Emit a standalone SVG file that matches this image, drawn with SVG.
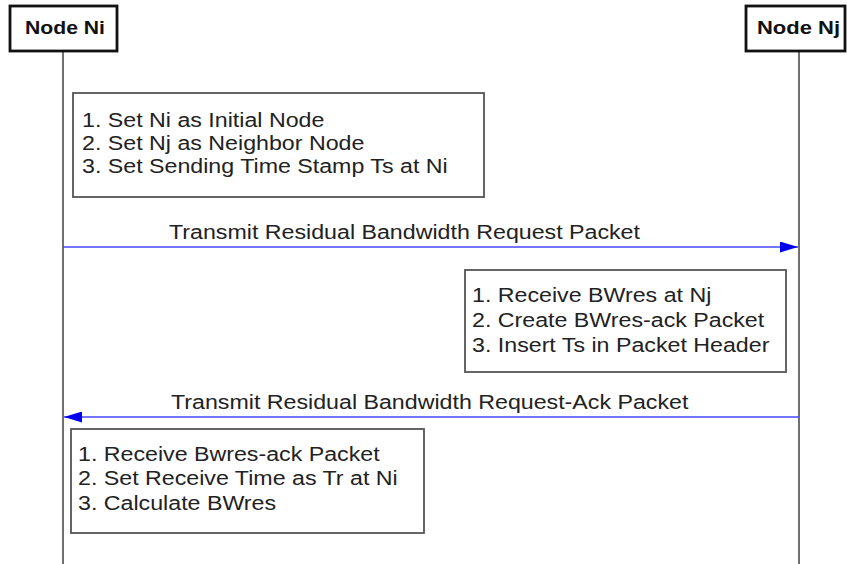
<svg xmlns="http://www.w3.org/2000/svg" width="847" height="564" viewBox="0 0 847 564">
  <style>
    .head { fill: #fff; stroke: #111; stroke-width: 2.8; }
    .head-text { font-family: "Liberation Sans", Arial, sans-serif; font-weight: bold; font-size: 19px; fill: #111; }
    .life { stroke: #707070; stroke-width: 2; fill: none; }
    .note { fill: #fff; stroke: #555; stroke-width: 1.8; }
    .txt { font-family: "Liberation Sans", Arial, sans-serif; font-size: 19.5px; fill: #222; }
    .msg { stroke: #4646ff; stroke-width: 1.6; fill: none; }
  </style>
  <defs>
    <marker id="arrow" viewBox="0 0 18 11" refX="18" refY="5.5" markerWidth="18" markerHeight="11" markerUnits="userSpaceOnUse" orient="auto">
      <path d="M0,0 L18,5.5 L0,11 Z" fill="#0000f0"/>
    </marker>
  </defs>
  <rect width="847" height="564" fill="#fff"/>

  <!-- lifelines -->
  <g id="lifelines">
    <line class="life" x1="63" y1="51" x2="63" y2="564"/>
    <line class="life" x1="799" y1="51" x2="799" y2="564"/>
  </g>

  <g id="node-ni">
    <rect class="head" x="10" y="6" width="107" height="45"/>
    <text class="head-text" x="25" y="34" textLength="80" lengthAdjust="spacingAndGlyphs">Node Ni</text>
  </g>

  <g id="node-nj">
    <rect class="head" x="746" y="6" width="99" height="45"/>
    <text class="head-text" x="757" y="34" textLength="83" lengthAdjust="spacingAndGlyphs">Node Nj</text>
  </g>

  <!-- note text is drawn slightly widened (scale 1.19 horizontally) -->
  <g id="note-init">
    <rect class="note" x="73" y="93" width="411" height="104"/>
    <text class="txt" transform="translate(82,127) scale(1.19,1)">1. Set Ni as Initial Node</text>
    <text class="txt" transform="translate(82,150) scale(1.19,1)">2. Set Nj as Neighbor Node</text>
    <text class="txt" transform="translate(82,173) scale(1.19,1)">3. Set Sending Time Stamp Ts at Ni</text>
  </g>

  <g id="note-receive">
    <rect class="note" x="465" y="270" width="321" height="102"/>
    <text class="txt" transform="translate(472,302) scale(1.19,1)">1. Receive BWres at Nj</text>
    <text class="txt" transform="translate(472,327) scale(1.19,1)">2. Create BWres-ack Packet</text>
    <text class="txt" transform="translate(472,352) scale(1.19,1)">3. Insert Ts in Packet Header</text>
  </g>

  <g id="note-calc">
    <rect class="note" x="71" y="429" width="353" height="104"/>
    <text class="txt" transform="translate(78,461) scale(1.19,1)">1. Receive Bwres-ack Packet</text>
    <text class="txt" transform="translate(78,485) scale(1.19,1)">2. Set Receive Time as Tr at Ni</text>
    <text class="txt" transform="translate(78,510) scale(1.19,1)">3. Calculate BWres</text>
  </g>

  <g id="connectors">
    <line class="msg" x1="63" y1="247" x2="798" y2="247" marker-end="url(#arrow)"/>
    <text class="txt" transform="translate(169,239) scale(1.19,1)">Transmit Residual Bandwidth Request Packet</text>
    <line class="msg" x1="799" y1="417" x2="64" y2="417" marker-end="url(#arrow)"/>
    <text class="txt" transform="translate(171,409) scale(1.19,1)">Transmit Residual Bandwidth Request-Ack Packet</text>
  </g>
</svg>
